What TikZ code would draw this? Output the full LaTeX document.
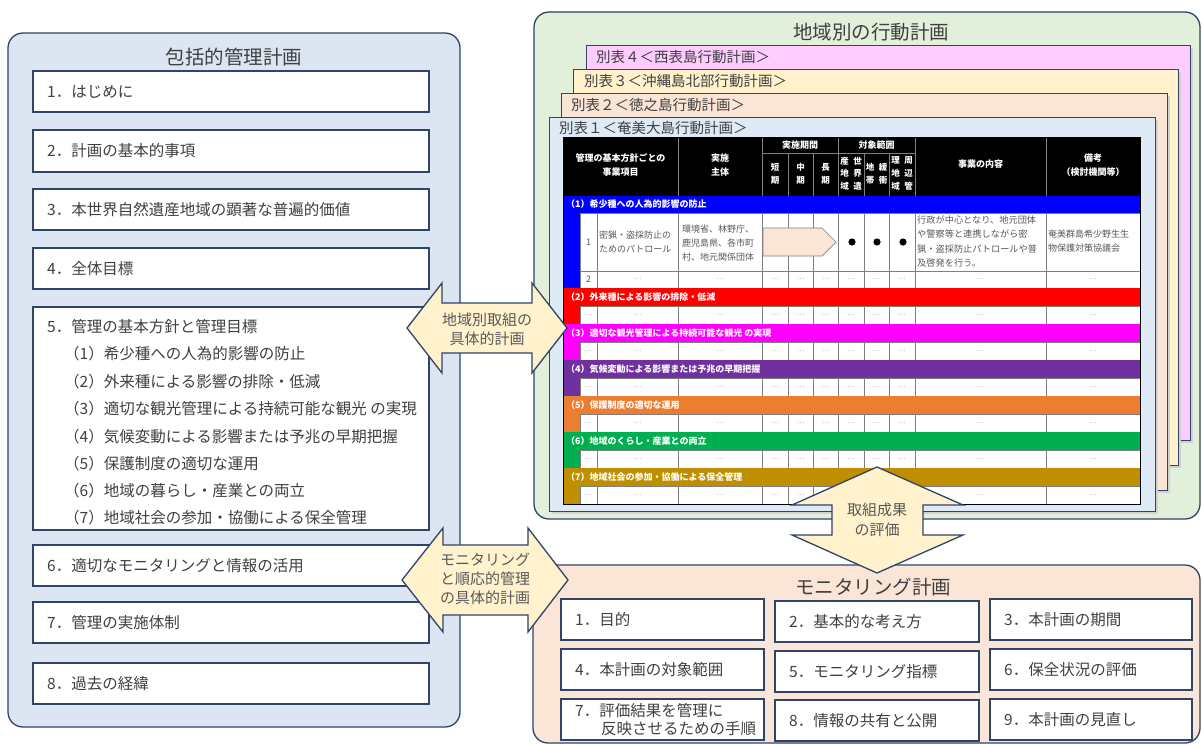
\documentclass[tikz,border=0pt]{standalone}
\usepackage{fontspec}
\setmainfont{Noto Sans CJK JP}
\definecolor{navy}{HTML}{2F4468}
\definecolor{txtgray}{HTML}{404040}
\definecolor{lblue}{HTML}{DCE6F2}
\definecolor{lgreen}{HTML}{E2EFDA}
\definecolor{peach}{HTML}{FBE5D6}
\definecolor{lyellow}{HTML}{FFF2CC}
\definecolor{lpink}{HTML}{FFCCFF}
\definecolor{sheetblue}{HTML}{DEEBF7}
\definecolor{bblue}{HTML}{0000FF}
\definecolor{bred}{HTML}{FF0000}
\definecolor{bmag}{HTML}{FF00FF}
\definecolor{bpurple}{HTML}{7030A0}
\definecolor{borange}{HTML}{ED7D31}
\definecolor{bgreen}{HTML}{00B050}
\definecolor{bgold}{HTML}{BF8F00}
\definecolor{cellgray}{HTML}{595959}
\definecolor{gridgray}{HTML}{7F7F7F}
\begin{document}
\begin{tikzpicture}[x=1pt,y=-1pt,
  panel/.style={draw=navy,line width=1.3pt,rounded corners=15pt},
  itembox/.style={draw=navy,line width=1.3pt,fill=white},
  sheet/.style={draw=navy,line width=0.8pt},
  shadowbox/.style={fill=black!18},
  ttl/.style={text=txtgray,font=\fontsize{19.5}{22}\selectfont,inner sep=0},
  itxt/.style={text=txtgray,font=\fontsize{15.5}{18}\selectfont,inner sep=0,anchor=west,align=left},
  stxt/.style={text=txtgray,font=\fontsize{14.5}{17}\selectfont,inner sep=0,anchor=west},
  atxt/.style={text=cellgray,font=\fontsize{15}{19}\selectfont,inner sep=0,align=center},
  bigarrow/.style={draw=navy,line width=1.3pt,fill=lyellow,line join=miter},
  hdr/.style={text=white,font=\fontsize{9}{14}\selectfont\bfseries,inner sep=0,align=center},
  vhdr/.style={text=white,font=\fontsize{8.5}{12.7}\selectfont\bfseries,inner sep=0,align=center},
  bandtxt/.style={text=white,font=\fontsize{9}{10}\selectfont\bfseries,inner sep=0,anchor=west},
  ctxt/.style={text=cellgray,font=\fontsize{9}{14}\selectfont,inner sep=0,align=left,anchor=west},
  numtxt/.style={text=cellgray,font=\fontsize{9}{10}\selectfont,inner sep=0},
  dots/.style={text=gridgray,font=\fontsize{7}{8}\selectfont,inner sep=0},
  cellline/.style={draw=gridgray,line width=0.7pt},
  hdrline/.style={draw=gridgray,line width=0.7pt},
]
\useasboundingbox (0,0) rectangle (1202,745);
\fill[white] (0,0) rectangle (1202,745);

%================ left panel =================
\draw[panel,fill=lblue] (8,33) rectangle (460,727);
\node[ttl] (lefttitle) at (234,57) {包括的管理計画};
\draw[itembox] (33,71) rectangle (429,112);
\node[itxt] (l1) at (47,91.5) {1．はじめに};
\draw[itembox] (33,130) rectangle (429,172);
\node[itxt] (l2) at (47,151) {2．計画の基本的事項};
\draw[itembox] (33,189) rectangle (429,230);
\node[itxt] (l3) at (47,209.5) {3．本世界自然遺産地域の顕著な普遍的価値};
\draw[itembox] (33,248) rectangle (429,289);
\node[itxt] (l4) at (47,268.5) {4．全体目標};
\draw[itembox] (33,307) rectangle (429,530);
\node[itxt] (l5) at (47,327) {5．管理の基本方針と管理目標};
\node[itxt] (l51) at (64,354) {（1）希少種への人為的影響の防止};
\node[itxt] (l52) at (64,381.5) {（2）外来種による影響の排除・低減};
\node[itxt] (l53) at (64,409) {（3）適切な観光管理による持続可能な観光 の実現};
\node[itxt] (l54) at (64,436.5) {（4）気候変動による影響または予兆の早期把握};
\node[itxt] (l55) at (64,463.5) {（5）保護制度の適切な運用};
\node[itxt] (l56) at (64,491) {（6）地域の暮らし・産業との両立};
\node[itxt] (l57) at (64,518) {（7）地域社会の参加・協働による保全管理};
\draw[itembox] (33,545) rectangle (429,586);
\node[itxt] (l6) at (47,565.5) {6．適切なモニタリングと情報の活用};
\draw[itembox] (33,602) rectangle (429,643);
\node[itxt] (l7) at (47,622.5) {7．管理の実施体制};
\draw[itembox] (33,663) rectangle (429,704);
\node[itxt] (l8) at (47,683.5) {8．過去の経緯};

%================ regional plans panel =================
\draw[panel,fill=lgreen] (534,12) rectangle (1200,519);
\node[ttl] (greentitle) at (871,32) {地域別の行動計画};

\fill[shadowbox] (589,48) rectangle (1193,443);
\draw[sheet,fill=lpink] (586,45) rectangle (1190,440);
\node[stxt] (s4) at (596,57) {別表４＜西表島行動計画＞};
\fill[shadowbox] (576,72) rectangle (1181,468);
\draw[sheet,fill=lyellow] (573,69) rectangle (1178,465);
\node[stxt] (s3) at (584,81) {別表３＜沖縄島北部行動計画＞};
\fill[shadowbox] (564,96) rectangle (1170,493);
\draw[sheet,fill=peach] (561,93) rectangle (1167,490);
\node[stxt] (s2) at (571,105) {別表２＜徳之島行動計画＞};
\fill[shadowbox] (552,120) rectangle (1158,514);
\draw[sheet,fill=sheetblue] (549,117) rectangle (1155,511);
\node[stxt] (s1) at (559,128) {別表１＜奄美大島行動計画＞};

%---- table header ----
\fill[black] (563,137) rectangle (1140,196);
\foreach \xx in {678,762,838,915,1046} \draw[hdrline] (\xx,137) -- (\xx,196);
\draw[hdrline] (762,153) -- (915,153);
\foreach \xx in {788,813,864,889} \draw[hdrline] (\xx,153) -- (\xx,196);
\node[hdr] (h1) at (620.5,165) {管理の基本方針ごとの\\事業項目};
\node[hdr] (h2) at (720,165) {実施\\主体};
\node[hdr] (h3) at (800,145) {実施期間};
\node[hdr] (h4) at (876.5,145) {対象範囲};
\node[vhdr] (h5) at (775,174) {短\\期};
\node[vhdr] (h6) at (800.5,174) {中\\期};
\node[vhdr] (h7) at (825.5,174) {長\\期};
\node[vhdr] (h8a) at (844.5,173.5) {産\\地\\域};
\node[vhdr] (h8b) at (857.5,173.5) {世\\界\\遺};
\node[vhdr] (h9a) at (870,174) {地\\帯};
\node[vhdr] (h9b) at (883,174) {緩\\衝};
\node[vhdr] (h10a) at (895.5,173.5) {理\\地\\域};
\node[vhdr] (h10b) at (908.5,173.5) {周\\辺\\管};
\node[hdr] (h11) at (980.5,164) {事業の内容};
\node[hdr] (h12) at (1093,165) {備考\\（検討機関等）};

%---- category 1 ----
\fill[bblue] (563,196) rectangle (1140,288);
\node[bandtxt] (band1) at (566,204.5) {（1）希少種への人為的影響の防止};
\fill[white] (580,213) rectangle (1140,288);
\foreach \xa/\xb in {580/597,597/678,678/762,762/788,788/813,813/838,838/864,864/889,889/915,915/1046,1046/1140}{
  \draw[cellline] (\xa,213) rectangle (\xb,271);
  \draw[cellline] (\xa,271) rectangle (\xb,288);
}
\node[numtxt] (r1num) at (588.5,242) {1};
\node[ctxt] (r1item) at (599,241.5) {密猟・盗採防止の\\ためのパトロール};
\node[ctxt] (r1org) at (682,243) {環境省、林野庁、\\鹿児島県、各市町\\村、地元関係団体};
\draw[fill=peach,draw=gridgray,line width=0.7pt] (763,228) -- (822,228) -- (836,242) -- (822,256) -- (763,256) -- cycle;
\fill[black] (852,242) circle (3.6);
\fill[black] (877,242) circle (3.6);
\fill[black] (903,242) circle (3.6);
\node[ctxt,font=\fontsize{9.2}{14.3}\selectfont] (r1desc) at (917,241.5) {行政が中心となり、地元団体\\や警察等と連携しながら密\\猟・盗採防止パトロールや普\\及啓発を行う。};
\node[ctxt] (r1note) at (1048,241.5) {奄美群島希少野生生\\物保護対策協議会};
\node[numtxt] (r2num) at (588.5,279.5) {2};
\foreach \cx [count=\j] in {637.5,720,775,800.5,825.5,851,876.5,902,980.5,1093}
  \node[dots] (r2d\j) at (\cx,279.5) {…};

%---- categories 2-7 ----
\foreach \by/\bc/\lab [count=\i from 2] in {
  288/bred/{（2）外来種による影響の排除・低減},
  324/bmag/{（3）適切な観光管理による持続可能な観光 の実現},
  360/bpurple/{（4）気候変動による影響または予兆の早期把握},
  396/borange/{（5）保護制度の適切な運用},
  432/bgreen/{（6）地域のくらし・産業との両立},
  468/bgold/{（7）地域社会の参加・協働による保全管理}}{
  \fill[\bc] (563,\by) rectangle (1140,\by+36);
  \node[bandtxt] (band\i) at (566,\by+9) {\lab};
  \fill[white] (580,\by+18) rectangle (1140,\by+36);
  \foreach \xa/\xb in {580/597,597/678,678/762,762/788,788/813,813/838,838/864,864/889,889/915,915/1046,1046/1140}
    \draw[cellline] (\xa,\by+18) rectangle (\xb,\by+36);
  \foreach \cx [count=\j] in {588.5,637.5,720,775,800.5,825.5,851,876.5,902,980.5,1093}
    \node[dots] (c\i d\j) at (\cx,\by+27) {…};
}
\draw[line width=0.8pt,black] (563,137) rectangle (1140,504);

%================ monitoring plan panel =================
\draw[panel,fill=peach] (533,565) rectangle (1200,743);
\node[ttl] (montitle) at (873,587) {モニタリング計画};
\draw[itembox] (561,599) rectangle (764,640);
\node[itxt] (m1) at (575,619.5) {1．目的};
\draw[itembox] (775,601) rectangle (979,642);
\node[itxt] (m2) at (789,621.5) {2．基本的な考え方};
\draw[itembox] (990,599) rectangle (1192,640);
\node[itxt] (m3) at (1004,619.5) {3．本計画の期間};
\draw[itembox] (561,649) rectangle (764,690);
\node[itxt] (m4) at (575,669.5) {4．本計画の対象範囲};
\draw[itembox] (775,651) rectangle (979,692);
\node[itxt] (m5) at (789,671.5) {5．モニタリング指標};
\draw[itembox] (990,649) rectangle (1192,690);
\node[itxt] (m6) at (1004,669.5) {6．保全状況の評価};
\draw[itembox] (561,699) rectangle (764,740);
\node[itxt] (m7a) at (575,710.5) {7．評価結果を管理に};
\node[itxt] (m7b) at (601,729) {反映させるための手順};
\draw[itembox] (775,700) rectangle (979,741);
\node[itxt] (m8) at (789,720.5) {8．情報の共有と公開};
\draw[itembox] (990,699) rectangle (1192,740);
\node[itxt] (m9) at (1004,719.5) {9．本計画の見直し};

%================ double arrows =================
\draw[bigarrow] (407,328) -- (442,283) -- (442,303) -- (532,303) -- (532,283) -- (567,328)
  -- (532,373) -- (532,353) -- (442,353) -- (442,373) -- cycle;
\node[atxt] (arrA) at (487,329) {地域別取組の\\具体的計画};

\draw[bigarrow] (402,580) -- (443,528) -- (443,545) -- (528,545) -- (528,528) -- (568,580)
  -- (528,632) -- (528,615) -- (443,615) -- (443,632) -- cycle;
\node[atxt] (arrB) at (485,579) {モニタリング\\と順応的管理\\の具体的計画};

\draw[bigarrow] (877,467) -- (963,505) -- (923,505) -- (923,535) -- (963,535) -- (877,573)
  -- (792,535) -- (832,535) -- (832,505) -- (792,505) -- cycle;
\node[atxt,font=\fontsize{15}{20}\selectfont] (arrC) at (877,520) {取組成果\\の評価};
\end{tikzpicture}
\end{document}
